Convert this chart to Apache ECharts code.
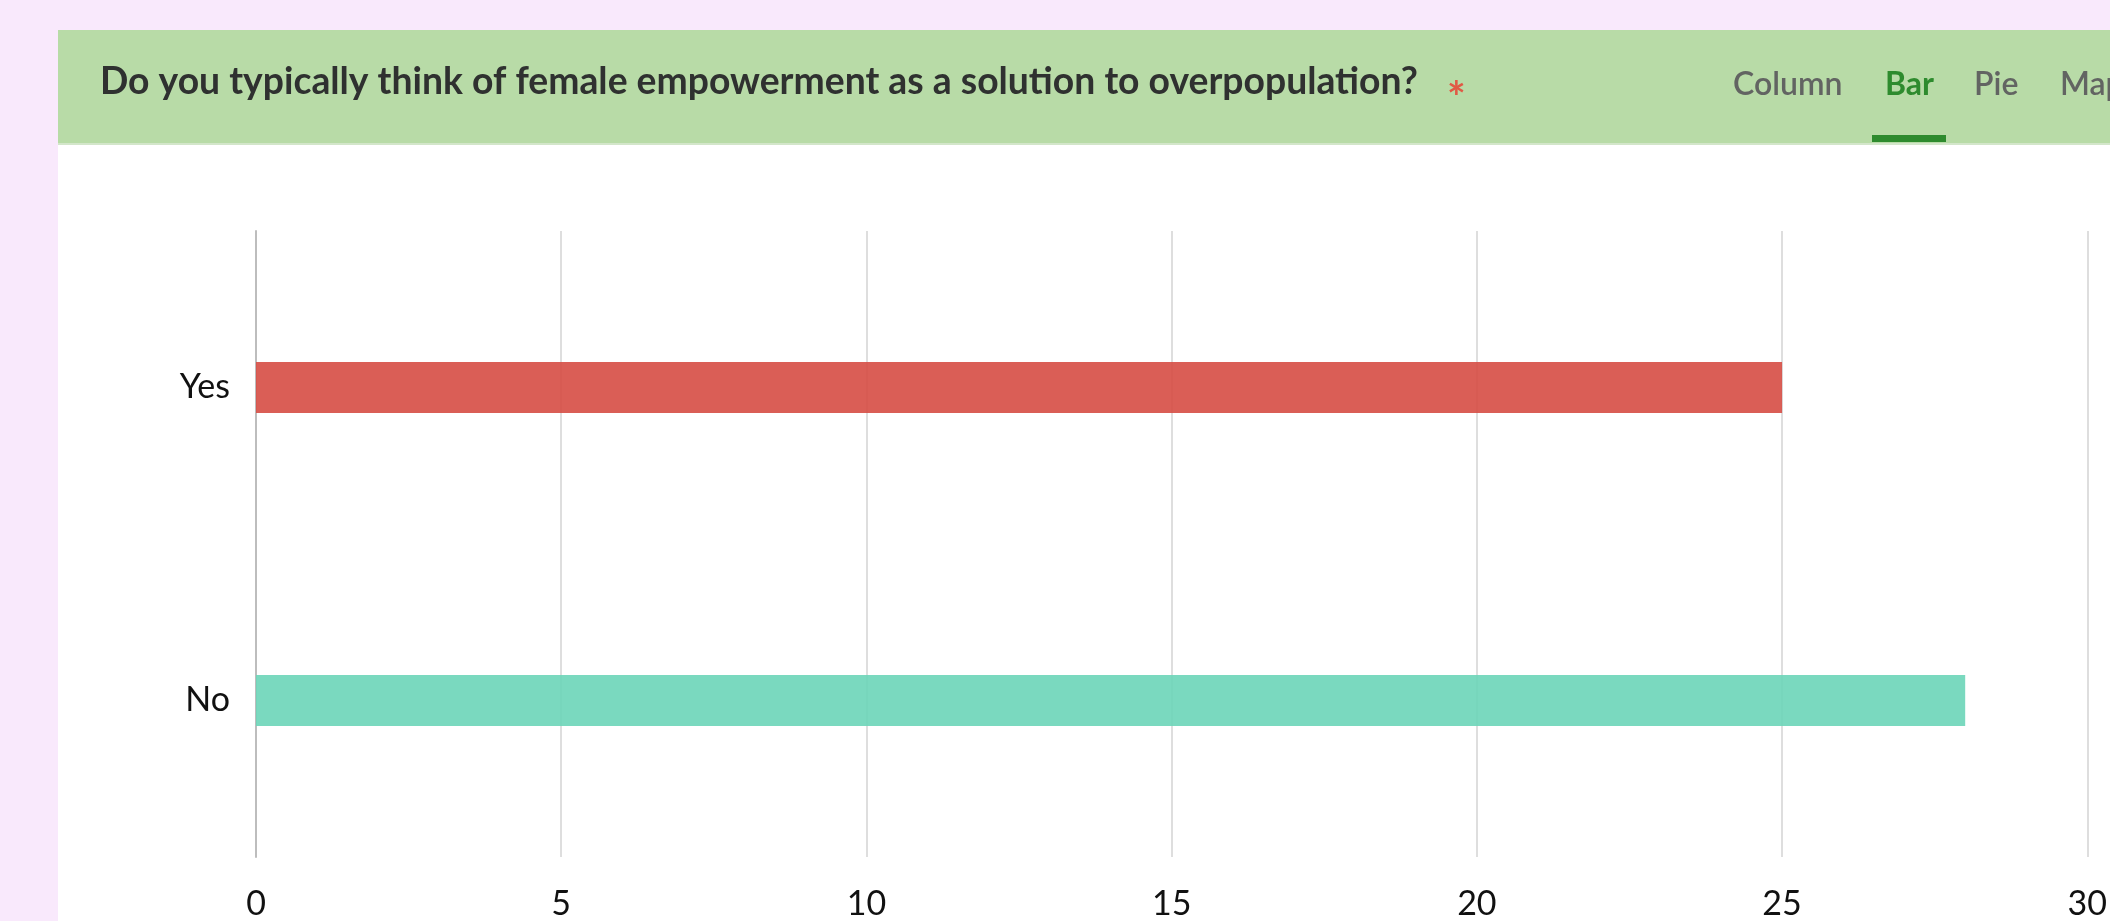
<!DOCTYPE html>
<html>
<head>
<meta charset="utf-8">
<script src="https://cdn.jsdelivr.net/npm/echarts@6/dist/echarts.min.js"></script>
<style>
html,body{margin:0;padding:0;background:#f9e9fc;}
#chart{width:2110px;height:921px;}
</style>
</head>
<body>
<div id="chart"></div>
<script>
const questionTitle = 'Do you typically think of female empowerment as a solution to overpopulation?';
const tabLabels = ['Column', 'Bar', 'Pie', 'Map'];
const categories = ['Yes', 'No'];
const counts = [25, 28];
const barColors = ['rgba(214,77,68,0.9)', 'rgba(108,213,184,0.9)'];
const xTicks = [0, 5, 10, 15, 20, 25, 30];

const FONT = 'Lato, "Noto Sans", sans-serif';
const chart = echarts.init(document.getElementById('chart'));
const tabX = [1733, 1885, 1974, 2060];

const graphics = [
  { type: 'rect', shape: { x: 58, y: 144, width: 2052, height: 777 }, style: { fill: '#ffffff' }, z: -10 },
  { type: 'rect', shape: { x: 58, y: 30, width: 2052, height: 114 }, style: { fill: '#b8dba7' }, z: -10 },
  { type: 'rect', shape: { x: 58, y: 143, width: 2052, height: 2 }, style: { fill: '#d3e6ca' }, z: -9 },
  { type: 'text', x: 100, y: 100, style: { text: questionTitle, font: 'bold 37.3px ' + FONT, fill: '#2f3130', verticalAlign: 'bottom' } },
  { type: 'text', x: 1447, y: 77, style: { text: '*', font: 'bold 44px ' + FONT, fill: '#e05a45' } },
  { type: 'rect', shape: { x: 1872, y: 135, width: 74, height: 7 }, style: { fill: '#2e8b2e' } }
];
tabLabels.forEach((t, i) => {
  graphics.push({ type: 'text', x: tabX[i], y: 101, style: { text: t, font: (i === 1 ? 'bold ' : '600 ') + '32px ' + FONT, fill: i === 1 ? '#2e8b2e' : '#626462', verticalAlign: 'bottom' } });
});

chart.setOption({
  backgroundColor: 'transparent',
  animation: false,
  graphic: graphics,
  grid: { left: 256, right: 20, top: 231, bottom: 64, containLabel: false },
  xAxis: {
    type: 'value', min: 0, max: 30, interval: 5,
    axisLine: { show: false }, axisTick: { show: false },
    splitLine: { show: true, lineStyle: { color: '#dedede', width: 2 } },
    axisLabel: { color: '#111', fontSize: 34, fontFamily: FONT, margin: 30,
      formatter: v => xTicks.includes(v) ? String(v) : '' }
  },
  yAxis: {
    type: 'category', data: categories, inverse: true,
    axisLine: { show: true, lineStyle: { color: '#bdbdbd', width: 2 } },
    axisTick: { show: false },
    axisLabel: { color: '#111', fontSize: 34, fontFamily: FONT, margin: 26 }
  },
  series: [{
    type: 'bar', barWidth: 51,
    data: counts.map((v, i) => ({ value: v, itemStyle: { color: barColors[i] } }))
  }]
});
</script>
</body>
</html>
